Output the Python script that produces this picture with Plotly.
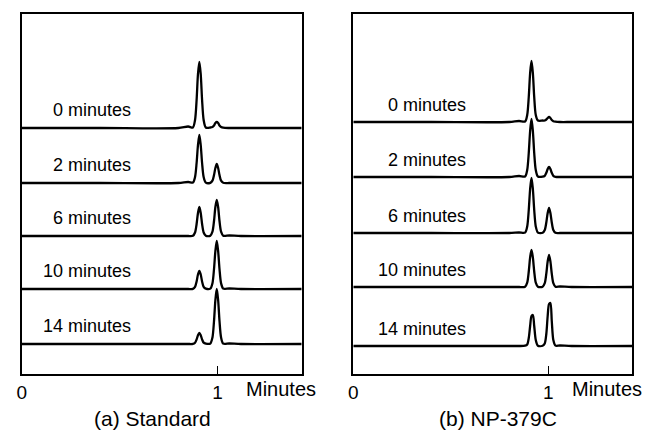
import plotly.graph_objects as go
from plotly.subplots import make_subplots

# ---------------- data ----------------
# Retention time grid (minutes) for each panel
time_std = [0.0, 0.4, 0.8, 0.85, 0.874, 0.885, 0.893, 0.900, 0.907, 0.914, 0.921, 0.929, 0.940,
            0.963, 0.974, 0.982, 0.989, 0.996, 1.003, 1.010, 1.018, 1.029, 1.06, 1.12, 1.43]
time_np = [0.0, 0.4, 0.8, 0.85, 0.881, 0.892, 0.900, 0.907, 0.914, 0.921, 0.928, 0.936, 0.947,
           0.971, 0.982, 0.990, 0.997, 1.004, 1.011, 1.018, 1.026, 1.037, 1.06, 1.12, 1.43]

sample_labels = ["0 minutes", "2 minutes", "6 minutes", "10 minutes", "14 minutes"]

# Detector signal (arbitrary units) for (a) Standard
std_0 = [0, 0, 0, 1.5, 0.5, 8, 28, 54, 66, 54, 28, 8, 0.5, 0.5, 1, 2.5, 5, 6, 5, 2.5, 1, 0.3, 0, 0, 0]
std_2 = [0, 0, 0, 1, 0.4, 6, 20, 38, 48, 38, 20, 6, 0.4, 0.2, 2.3, 8, 15, 19, 15, 8, 2.3, 0.2, 0, 0, 0]
std_6 = [0, 0, 0, 0, 0.2, 3.5, 12, 23, 29, 23, 12, 3.5, 0.3, 0.3, 4.3, 15, 29, 36, 29, 15, 4.3, 0.3, 0.5, 0, 0]
std_10 = [0, 0, 0, 0, 0.1, 2.2, 7.5, 14.5, 18, 14.5, 7.5, 2.2, 0.4, 0.4, 5.8, 20, 38, 48, 38, 20, 5.8, 0.4, 0.5, 0, 0]
std_14 = [0, 0, 0, 0, 0.1, 1.3, 4.6, 8.8, 11, 8.8, 4.6, 1.3, 0.4, 0.4, 6.6, 23, 44, 55, 44, 23, 6.6, 0.4, 0.5, 0, 0]

# Detector signal (arbitrary units) for (b) NP-379C
np_0 = [0, 0, 0, 1, 0.5, 7, 25, 49, 61, 49, 25, 7, 1.5, 1.5, 1.5, 2.5, 4, 5, 4, 2, 0.8, 0.3, 0, 0, 0]
np_2 = [0, 0, 0, 1, 0.5, 7, 24, 46, 58, 46, 24, 7, 0.5, 0.3, 1.2, 4.2, 8, 10, 8, 4.2, 1.2, 0.2, 0, 0, 0]
np_6 = [0, 0, 0, 0.5, 0.4, 6.6, 23, 44, 55, 44, 23, 6.6, 0.4, 0.2, 3, 10.5, 20, 25, 20, 10.5, 3, 0.2, 0, 0, 0]
np_10 = [0, 0, 0, 0, 0.3, 4.4, 15.5, 29.6, 37, 29.6, 15.5, 4.4, 0.3, 0.3, 3.8, 13.4, 25.6, 32, 25.6, 13.4, 3.8, 0.3, 0.5, 0, 0]
np_14 = [0, 0, 0, 0, 0.3, 1.5, 8, 20, 30, 31, 20, 6, 0.3, 0.3, 2.5, 12, 30, 42, 43, 25, 6, 0.4, 0.5, 0, 0]

std_series = [std_0, std_2, std_6, std_10, std_14]
np_series = [np_0, np_2, np_6, np_10, np_14]

tick_vals = [0, 1]
tick_text = ["0", "1"]
panel_titles = ["(a) Standard", "(b) NP-379C"]
axis_unit = "Minutes"

# ---------------- layout / styling ----------------
W, H = 645, 442
FONT = "Liberation Sans, Arial, Helvetica, sans-serif"
std_offsets = [246, 191, 138, 85, 30]   # baseline positions (plot units)
np_offsets = [252, 197, 141, 87, 28]

fig = make_subplots(rows=1, cols=2)

for col, (times, series, offs) in enumerate(
        [(time_std, std_series, std_offsets), (time_np, np_series, np_offsets)], start=1):
    for lab, ys, off in zip(sample_labels, series, offs):
        fig.add_trace(go.Scatter(
            x=times, y=[v + off for v in ys], mode="lines",
            line=dict(color="black", width=2.3, shape="spline", smoothing=0.8),
            showlegend=False, hoverinfo="skip"), row=1, col=col)
        fig.add_annotation(
            x=0.568 if col == 1 else 0.59, y=off + (18 if col == 1 else 17),
            xref="x" if col == 1 else "x2", yref="y" if col == 1 else "y2",
            text=lab, showarrow=False, xanchor="right", yanchor="middle",
            font=dict(family=FONT, size=18, color="black"))

ydom = [1 - 374 / H, 1 - 14 / H]
fig.update_layout(
    width=W, height=H, margin=dict(l=0, r=0, t=0, b=0),
    paper_bgcolor="white", plot_bgcolor="white",
    font=dict(family=FONT, color="black"),
    xaxis=dict(domain=[17 / W, 299 / W]),
    xaxis2=dict(domain=[351 / W, 632 / W]),
    yaxis=dict(domain=ydom),
    yaxis2=dict(domain=ydom),
)
fig.update_xaxes(range=[0, 1.43], tickvals=tick_vals, ticktext=tick_text,
                 ticks="inside", ticklen=8, tickwidth=1.3, tickcolor="black",
                 showline=True, mirror=True, linecolor="black", linewidth=1.5,
                 showgrid=False, zeroline=False,
                 tickfont=dict(family=FONT, size=19, color="black"))
fig.update_yaxes(range=[0, 360], showticklabels=False, ticks="",
                 showline=True, mirror=True, linecolor="black", linewidth=1.5,
                 showgrid=False, zeroline=False)

fig.add_annotation(x=241 / W, y=1 - 389 / H, xref="paper", yref="paper",
                   text=axis_unit, showarrow=False, xanchor="left", yanchor="middle",
                   font=dict(family=FONT, size=20, color="black"))
fig.add_annotation(x=644 / W, y=1 - 389 / H, xref="paper", yref="paper",
                   text=axis_unit, showarrow=False, xanchor="right", yanchor="middle",
                   font=dict(family=FONT, size=20, color="black"))
for xc, t in zip([149, 497], panel_titles):
    fig.add_annotation(x=xc / W, y=1 - 418 / H, xref="paper", yref="paper",
                       text=t, showarrow=False, xanchor="center", yanchor="middle",
                       font=dict(family=FONT, size=21, color="black"))

fig.write_html("out.html")
